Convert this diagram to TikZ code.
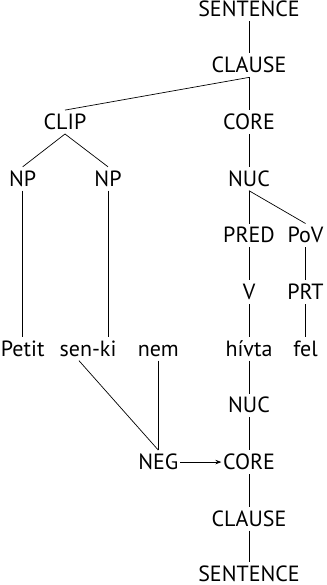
\documentclass[tikz,border=0pt]{standalone}
\usepackage{fontspec}
\setmainfont{PT Sans}
\usetikzlibrary{arrows.meta}
\begin{document}
\begin{tikzpicture}[x=1pt,y=-1pt,
  lab/.style={anchor=base,inner xsep=1.5pt,inner ysep=0pt,
    text height=19pt,text depth=4.5pt,font=\fontsize{22}{24}\selectfont},
  branch/.style={line width=0.7pt},
  link/.style={line width=0.7pt,-{Stealth[length=6pt,width=4.5pt]}}]
\useasboundingbox (0,0) rectangle (326,585);
% upper tree (constituent projection)
\node[lab] (sent1)  at (249,16.5)  {SENTENCE};
\node[lab] (cl1)    at (249,72.7)  {CLAUSE};
\node[lab] (clip)   at (65,129.3)  {CLIP};
\node[lab] (core1)  at (249,129.3) {CORE};
\node[lab] (np1)    at (22.7,186)  {NP};
\node[lab] (np2)    at (108,186)   {NP};
\node[lab] (nuc1)   at (249,186)   {NUC};
\node[lab] (pred)   at (249,242.7) {PRED};
\node[lab] (pov)    at (305.5,242.7) {PoV};
\node[lab] (v)      at (249,299.3) {V};
\node[lab] (prt)    at (305.5,299.3) {PRT};
% words
\node[lab] (petit)  at (22.7,356)  {Petit};
\node[lab] (senki)  at (88,356)    {sen-ki};
\node[lab] (nem)    at (158.3,356) {nem};
\node[lab] (hivta)  at (249,356)   {hívta};
\node[lab] (fel)    at (305.5,356) {fel};
% lower tree (operator projection)
\node[lab] (nuc2)   at (249,412.7) {NUC};
\node[lab] (neg)    at (158.3,469.3) {NEG};
\node[lab] (core2)  at (249,469.3) {CORE};
\node[lab] (cl2)    at (249,526)   {CLAUSE};
\node[lab,text depth=1pt] (sent2) at (249,581.5) {SENTENCE};
% attachment points on the two morphemes of sen-ki
\coordinate (sen) at ([xshift=-9pt]senki.south);
\coordinate (ki)  at (np2.south |- senki.north);

\draw[branch] (sent1.south) -- (cl1.north);
\draw[branch] (cl1.south) -- (clip.north);
\draw[branch] (cl1.south) -- (core1.north);
\draw[branch] (clip.south) -- (np1.north);
\draw[branch] (clip.south) -- (np2.north);
\draw[branch] (core1.south) -- (nuc1.north);
\draw[branch] (nuc1.south) -- (pred.north);
\draw[branch] (nuc1.south) -- (pov.north);
\draw[branch] (pred.south) -- (v.north);
\draw[branch] (pov.south) -- (prt.north);
\draw[branch] (np1.south) -- (petit.north);
\draw[branch] (np2.south) -- (ki);
\draw[branch] (v.south) -- (hivta.north);
\draw[branch] (prt.south) -- (fel.north);

\draw[branch] (hivta.south) -- (nuc2.north);
\draw[branch] (nuc2.south) -- (core2.north);
\draw[branch] (core2.south) -- (cl2.north);
\draw[branch] (cl2.south) -- (sent2.north);
\draw[branch] (sen) -- (neg.north);
\draw[branch] (nem.south) -- (neg.north);
\draw[link] (neg.east) -- (core2.west);
\end{tikzpicture}
\end{document}
